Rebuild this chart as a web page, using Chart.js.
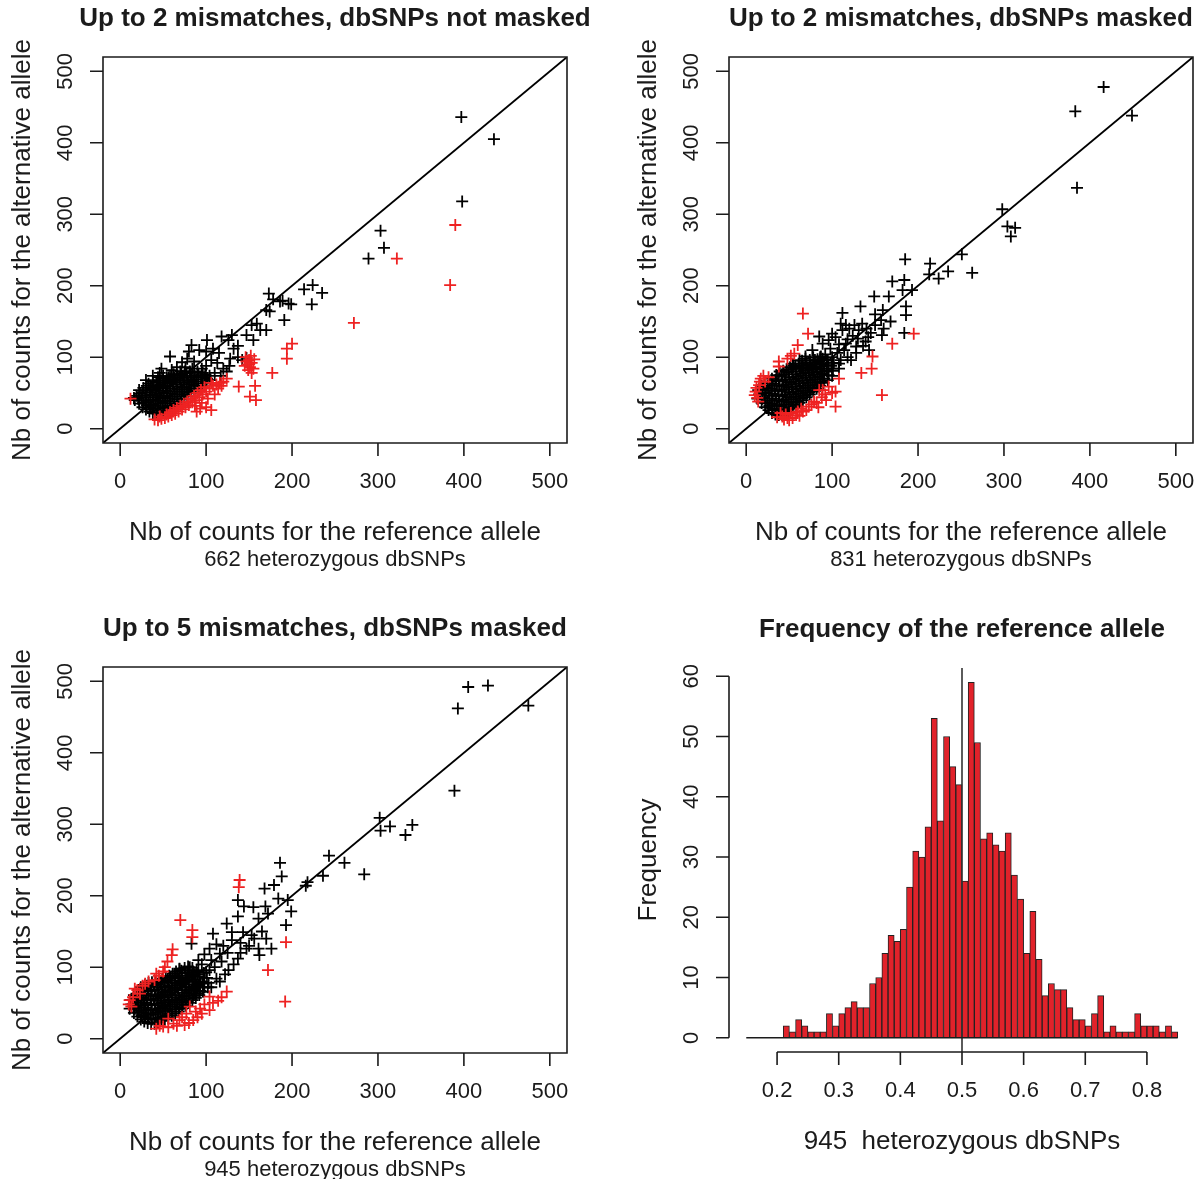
<!DOCTYPE html>
<html lang="en">
<head>
<meta charset="UTF-8">
<title>Allele counts at heterozygous dbSNPs</title>
<script src="https://cdn.jsdelivr.net/npm/chart.js"></script>
<style>
  html, body { margin: 0; background: #fff; overflow: hidden; }
  canvas { position: absolute; }
</style>
</head>
<body>
<canvas id="p1" width="600" height="590" style="left:0;top:0"></canvas>
<canvas id="p2" width="601" height="590" style="left:600px;top:0"></canvas>
<canvas id="p3" width="600" height="589" style="left:0;top:590px"></canvas>
<canvas id="p4" width="601" height="589" style="left:600px;top:590px"></canvas>
<script>
// ---- data ----
const countTicks = [0, 100, 200, 300, 400, 500];
const countLabels = ['0', '100', '200', '300', '400', '500'];
const diagonal = [[-20, -20], [520, 520]];

// panel 1: up to 2 mismatches, dbSNPs not masked
const p1Black = [
  [397,436],[435,405],[398,318],[303,277],[307,253],[289,238],
  [173,189],[178,181],[189,179],[199,174],[214,195],[224,201],[235,190],[223,174],[191,152],[174,164],[186,178],[196,175],[170,166],[159,147],[153,145],[163,138],[170,138],[155,124],[147,131],[130,131],[126,124],[118,129],[101,124],[83,117],[58,101],
  [80,108],[92,110],[100,108],[108,112],[115,106],[132,112],[137,116],[128,98],[137,100],[147,99],[113,92],[100,88],[86,94],[78,98],[72,93],[66,86],[60,82],[48,84],[30,68],[38,74],[46,78],[120,84],[127,88],[142,96],[106,96],[95,84],[110,78],[117,74],[124,80],[104,68],[98,72],[90,80],[84,84],[76,86],[70,80],[62,76],[56,72],[50,74],[44,72],
  [17,40],[19,46],[16,43],
  [22,35],[21,42],[23,49],[22,54],
  [26,30],[27,37],[25,44],[26,51],[27,57],
  [30,27],[31,33],[29,40],[31,47],[30,54],[31,60],
  [34,24],[35,30],[33,37],[35,44],[34,51],[35,57],[33,63],
  [38,22],[39,28],[37,34],[39,41],[38,48],[37,55],[39,61],[38,66],
  [42,21],[43,26],[41,32],[43,39],[42,46],[41,53],[43,59],[42,65],
  [46,22],[47,28],[45,35],[47,42],[46,49],[45,56],[47,62],[46,68],
  [50,23],[51,30],[49,37],[51,44],[50,51],[49,58],[51,64],[50,70],
  [54,25],[55,32],[53,39],[55,46],[54,53],[53,60],[55,66],[54,72],
  [58,28],[59,35],[57,42],[59,49],[58,56],[57,63],[59,69],[58,74],
  [62,31],[63,38],[61,45],[63,52],[62,59],[61,65],[63,71],[62,76],
  [66,34],[67,41],[65,48],[67,55],[66,62],[65,68],[67,74],
  [70,38],[71,45],[69,52],[71,58],[70,65],[69,71],[71,77],
  [74,42],[75,48],[73,55],[75,62],[74,68],[73,74],[75,80],
  [78,46],[79,52],[77,58],[79,65],[78,71],[77,77],
  [82,50],[83,56],[81,62],[83,68],[82,74],[81,80],
  [86,53],[87,60],[85,66],[87,72],[86,78],
  [90,56],[91,63],[89,69],[91,75],
  [95,60],[96,66],[94,72],[96,78],
  [100,64],[101,70],[99,76],
  [105,68],[104,74]
];
const p1Red = [
  [390,285],[322,238],[384,201],[272,148],
  [194,112],[200,119],[194,98],[177,78],[158,40],[151,45],[138,59],[157,60],[12,42],
  [146,100],[150,96],[153,92],[148,90],[151,86],[155,84],[145,88],[149,82],[153,78],[147,94],[156,97],[152,102],
  [40,13],[44,12],[48,14],[52,15],[46,17],[56,17],[60,19],[64,21],[58,23],[68,24],[72,27],[66,29],[76,30],[80,33],[74,35],
  [84,37],[88,40],[82,42],[92,44],[96,48],[90,50],[100,52],[104,56],[98,58],[108,60],[112,62],[116,64],[106,64],[118,60],
  [114,56],[89,24],[87,32],[95,36],[102,42],[106,26],[100,30],[93,28],[110,48],[54,20],[62,26],[70,32],[78,38],[86,46],
  [94,54],[120,66],[124,70]
];

// panel 2: up to 2 mismatches, dbSNPs masked
const p2Black = [
  [416,478],[383,444],[449,438],[385,337],[298,307],[304,283],[313,281],[308,269],[251,244],[263,218],[214,231],[213,216],[224,210],[235,220],[185,237],[170,206],[184,208],[182,194],[193,194],[149,185],[166,185],
  [133,171],[112,162],[159,166],[186,171],[186,159],[157,152],[145,134],[158,131],[184,134],[135,147],[126,145],[116,145],[110,147],[100,133],[131,138],[139,122],[143,110],[122,96],[108,91],[85,129],[89,119],[77,110],[96,124],[116,119],[128,115],[54,91],[69,101],
  [104,128],[112,138],[120,140],[124,130],[118,125],[108,118],[98,112],[92,104],[86,100],[80,96],[74,92],[100,100],[106,106],[114,110],[130,126],[140,140],[150,145],[160,140],[168,150],[150,160],[142,128],[136,116],[128,106],[118,100],[110,96],[102,92],[94,96],[88,90],[82,86],[76,84],[70,90],[64,86],[62,96],[58,84],[100,84],[94,80],[88,76],[108,84],
  [13,42],[15,48],[14,54],
  [18,36],[19,42],[17,48],[19,55],[18,60],
  [22,30],[23,36],[21,43],[23,50],[22,57],[21,63],
  [26,26],[27,32],[25,39],[27,46],[26,53],[25,60],[27,66],
  [30,22],[31,28],[29,35],[31,42],[30,49],[29,56],[31,63],[30,70],
  [34,20],[35,26],[33,33],[35,40],[34,47],[33,54],[35,61],[34,68],[35,75],
  [38,19],[39,25],[37,32],[39,39],[38,46],[37,53],[39,60],[38,67],[37,74],[39,80],
  [42,19],[43,25],[41,32],[43,39],[42,46],[41,53],[43,60],[42,67],[41,74],[43,81],
  [46,21],[47,27],[45,34],[47,41],[46,48],[45,55],[47,62],[46,69],[45,76],[47,83],
  [50,24],[51,30],[49,37],[51,44],[50,51],[49,58],[51,65],[50,72],[49,79],[51,86],
  [54,28],[55,34],[53,41],[55,48],[54,55],[53,62],[55,69],[54,76],[53,83],[55,89],
  [58,32],[59,38],[57,45],[59,52],[58,59],[57,66],[59,73],[58,80],[57,87],
  [62,36],[63,42],[61,49],[63,56],[62,63],[61,70],[63,77],[62,84],[61,91],
  [66,40],[67,46],[65,53],[67,60],[66,67],[65,74],[67,81],[66,88],[65,95],
  [70,44],[71,50],[69,57],[71,64],[70,71],[69,78],[71,85],[70,92],[69,98],
  [74,48],[75,54],[73,61],[75,68],[74,75],[73,82],[75,89],[74,96],
  [78,52],[79,58],[77,65],[79,72],[78,79],[77,86],[79,93],[78,100],
  [82,56],[83,62],[81,69],[83,76],[82,83],[81,90],[83,97],
  [86,60],[87,66],[85,73],[87,80],[86,87],[85,94],[87,101],
  [90,64],[91,70],[89,77],[91,84],[90,91],[89,98],
  [95,68],[96,75],[94,82],[96,89],[95,96],
  [100,74],[101,81],[99,88]
];
const p2Red = [
  [66,161],[72,133],[60,117],[56,105],[38,94],[38,87],[48,98],[52,102],[26,72],[22,66],[17,70],[15,61],[11,52],[13,43],
  [10,47],[12,57],[16,66],[20,74],[14,38],
  [170,119],[195,133],[147,101],[146,84],[134,78],[158,47],
  [104,31],[104,52],[93,40],[96,59],[85,54],[73,31],[66,24],[58,19],[48,15],[42,17],[54,15],[79,38],[89,54],[108,70],
  [40,22],[46,20],[52,22],[60,24],[64,28],[70,26],[76,34],[82,36],[88,44],[84,30],[92,48],[100,50],[62,18],[50,12],
  [44,13],[36,16]
];

// panel 3: up to 5 mismatches, dbSNPs masked
const p3Black = [
  [405,492],[428,494],[393,462],[475,466],[389,347],[302,309],[303,291],[314,297],[332,285],[340,299],[284,230],[261,246],[243,256],[236,228],[218,219],[216,214],[186,246],[188,227],[179,215],[168,210],
  [184,196],[195,194],[199,178],[193,159],[137,194],[144,185],[155,184],[169,185],[137,171],[161,168],[172,175],[124,161],[108,147],[130,149],[143,149],[153,145],[147,126],[161,126],[176,126],[162,117],[137,112],[126,96],[112,84],[97,77],[83,133],[91,110],[106,110],[116,119],[69,98],[81,100],[100,93],[87,63],[77,82],
  [120,130],[130,138],[140,134],[150,130],[156,140],[165,150],[170,140],[125,120],[118,108],[110,100],[104,96],[95,104],[90,90],[84,88],[78,92],[98,118],[104,126],[112,132],[140,120],[132,104],[122,90],[116,80],[106,72],[96,66],[90,72],[86,80],[76,72],[70,80],[64,86],[60,78],
  [11,42],[13,48],[12,54],
  [16,36],[17,42],[15,48],[17,55],[16,61],
  [20,31],[21,37],[19,44],[21,50],[20,57],[19,63],[21,68],
  [24,27],[25,33],[23,40],[25,46],[24,53],[23,60],[25,66],[24,72],
  [28,24],[29,30],[27,37],[29,43],[28,50],[27,57],[29,63],[28,70],[29,75],
  [32,22],[33,28],[31,35],[33,41],[32,48],[31,55],[33,61],[32,68],[31,74],[33,78],
  [36,21],[37,27],[35,34],[37,40],[36,47],[35,54],[37,60],[36,67],[35,73],[37,79],
  [40,21],[41,27],[39,34],[41,40],[40,47],[39,54],[41,60],[40,67],[39,74],[41,80],
  [44,23],[45,29],[43,36],[45,42],[44,49],[43,56],[45,62],[44,69],[43,76],[45,82],
  [48,25],[49,31],[47,38],[49,44],[48,51],[47,58],[49,64],[48,71],[47,78],[49,84],
  [52,27],[53,33],[51,40],[53,46],[52,53],[51,60],[53,66],[52,73],[51,80],[53,86],
  [56,29],[57,35],[55,42],[57,48],[56,55],[55,62],[57,68],[56,75],[55,82],[57,88],
  [60,32],[61,38],[59,45],[61,51],[60,58],[59,65],[61,71],[60,78],[59,85],[61,91],
  [64,35],[65,41],[63,48],[65,54],[64,61],[63,68],[65,74],[64,81],[63,88],[65,94],
  [68,38],[69,44],[67,51],[69,57],[68,64],[67,71],[69,77],[68,84],[67,91],[69,97],
  [72,42],[73,48],[71,55],[73,61],[72,68],[71,75],[73,81],[72,88],[71,95],
  [76,46],[77,52],[75,59],[77,65],[76,72],[75,79],[77,85],[76,92],[75,99],
  [80,50],[81,56],[79,63],[81,69],[80,76],[79,83],[81,89],[80,96],[79,101],
  [84,54],[85,60],[83,67],[85,73],[84,80],[83,87],[85,93],[84,99],
  [88,57],[89,63],[87,70],[89,76],[88,83],[87,90],[89,96],
  [92,61],[93,67],[91,74],[93,80],[92,87],[91,94],
  [97,66],[98,72],[96,79],[98,85],[97,92],
  [102,72],[103,78],[101,85]
];
const p3Red = [
  [139,222],[138,212],[70,166],[84,152],[84,142],[61,125],[60,117],[52,100],[55,108],[45,88],[50,94],[40,82],[42,91],
  [29,77],[17,70],[11,54],[13,45],[23,63],[15,58],[20,68],[26,74],[33,80],[10,48],
  [193,135],[172,96],[192,52],
  [124,66],[114,53],[104,59],[104,40],[95,35],[93,42],[77,35],[69,26],[62,21],[50,17],[42,14],[75,19],[85,26],[81,45],
  [56,28],[46,18],[56,16],[66,18],[72,30],[88,38],[98,48],[108,50],[118,58],[90,30],[80,22]
];

// panel 4: histogram of the reference allele frequency (bins of 0.01)
const binMids = [0.215,0.225,0.235,0.245,0.255,0.265,0.275,0.285,0.295,0.305,0.315,0.325,0.335,0.345,0.355,0.365,
  0.375,0.385,0.395,0.405,0.415,0.425,0.435,0.445,0.455,0.465,0.475,0.485,0.495,0.505,0.515,0.525,
  0.535,0.545,0.555,0.565,0.575,0.585,0.595,0.605,0.615,0.625,0.635,0.645,0.655,0.665,0.675,0.685,
  0.695,0.705,0.715,0.725,0.735,0.745,0.755,0.765,0.775,0.785,0.795,0.805,0.815,0.825,0.835,0.845];
const binCounts = [2,1,3,2,1,1,1,4,2,4,5,6,5,5,9,10,14,17,16,18,25,31,30,35,53,36,50,45,42,
  26,59,49,33,34,32,31,34,27,23,14,21,13,7,9,8,8,5,3,3,2,4,7,1,2,1,1,1,4,2,2,2,1,2,1];
const freqTicks = [0.2, 0.3, 0.4, 0.5, 0.6, 0.7, 0.8];
const freqLabels = ['0.2', '0.3', '0.4', '0.5', '0.6', '0.7', '0.8'];
const histTicks = [0, 10, 20, 30, 40, 50, 60];
const histLabels = ['0', '10', '20', '30', '40', '50', '60'];

// ---- drawing ----
const FONT = '"Liberation Sans", Arial, Helvetica, sans-serif';
const INK = '#1b1b1b';
const toXY = arr => arr.map(([x, y]) => ({ x, y }));

function rotText(ctx, text, x, y) {
  ctx.save();
  ctx.translate(x, y);
  ctx.rotate(-Math.PI / 2);
  ctx.fillText(text, 0, 0);
  ctx.restore();
}

// R-style frame, ticks and labels, placed with the chart's scales
function rAxes(spec) {
  return {
    id: 'rAxes',
    afterDraw(chart) {
      const { ctx, chartArea: a } = chart;
      const xs = chart.scales.x, ys = chart.scales.y;
      const cx = (a.left + a.right) / 2, cy = (a.top + a.bottom) / 2;
      const xt = spec.xTicks.map(v => xs.getPixelForValue(v));
      const yt = spec.yTicks.map(v => ys.getPixelForValue(v));
      ctx.save();
      ctx.strokeStyle = INK;
      ctx.fillStyle = INK;
      ctx.lineWidth = 1.6;
      ctx.beginPath();
      if (spec.box) ctx.rect(a.left, a.top, a.right - a.left, a.bottom - a.top);
      ctx.moveTo(xt[0], a.bottom); ctx.lineTo(xt[xt.length - 1], a.bottom);
      xt.forEach(p => { ctx.moveTo(p, a.bottom); ctx.lineTo(p, a.bottom + 13); });
      ctx.moveTo(a.left, yt[0]); ctx.lineTo(a.left, yt[yt.length - 1]);
      yt.forEach(p => { ctx.moveTo(a.left, p); ctx.lineTo(a.left - 13, p); });
      ctx.stroke();

      ctx.textAlign = 'center';
      ctx.textBaseline = 'middle';
      ctx.font = '22px ' + FONT;
      xt.forEach((p, i) => ctx.fillText(spec.xLabels[i], p, a.bottom + 39));
      yt.forEach((p, i) => rotText(ctx, spec.yLabels[i], a.left - 37, p));
      ctx.font = 'bold 26px ' + FONT;
      ctx.fillText(spec.title, cx, a.top - 38);
      ctx.font = '26px ' + FONT;
      ctx.fillText(spec.xTitle, cx, a.bottom + 90);
      rotText(ctx, spec.yTitle, a.left - 80, cy);
      if (spec.sub) {
        ctx.font = '22px ' + FONT;
        ctx.fillText(spec.sub, cx, a.bottom + 117);
      }
      ctx.restore();
    }
  };
}

function crosses(points, color, order) {
  return {
    data: toXY(points), pointStyle: 'cross', pointRadius: 6,
    pointBorderColor: color, pointBorderWidth: 1.8, borderColor: color, order
  };
}

function scatterPanel(id, black, red, padding, title, sub) {
  new Chart(document.getElementById(id), {
    type: 'scatter',
    data: {
      datasets: [
        crosses(black, '#000', 3),
        crosses(red, '#ee2222', 2),
        { type: 'line', data: toXY(diagonal), borderColor: '#000', borderWidth: 1.8, pointRadius: 0, order: 1 }
      ]
    },
    options: {
      responsive: false, animation: false, events: [],
      layout: { padding },
      plugins: { legend: { display: false }, tooltip: { enabled: false } },
      scales: {
        x: { type: 'linear', min: -20, max: 520, display: false },
        y: { type: 'linear', min: -20, max: 520, display: false }
      }
    },
    plugins: [rAxes({
      box: true, title, sub,
      xTicks: countTicks, xLabels: countLabels, yTicks: countTicks, yLabels: countLabels,
      xTitle: 'Nb of counts for the reference allele',
      yTitle: 'Nb of counts for the alternative allele'
    })]
  });
}

scatterPanel('p1', p1Black, p1Red, { left: 103, right: 33, top: 57, bottom: 147 },
  'Up to 2 mismatches, dbSNPs not masked', '662 heterozygous dbSNPs');
scatterPanel('p2', p2Black, p2Red, { left: 129, right: 8, top: 57, bottom: 147 },
  'Up to 2 mismatches, dbSNPs masked', '831 heterozygous dbSNPs');
scatterPanel('p3', p3Black, p3Red, { left: 103, right: 33, top: 77, bottom: 126 },
  'Up to 5 mismatches, dbSNPs masked', '945 heterozygous dbSNPs');

new Chart(document.getElementById('p4'), {
  type: 'bar',
  data: {
    datasets: [
      {
        type: 'bar', data: binMids.map((m, i) => ({ x: m, y: binCounts[i] })),
        backgroundColor: '#e1222a', borderColor: '#222', borderWidth: 1, borderSkipped: false,
        barPercentage: 1, categoryPercentage: 1, order: 2
      },
      { type: 'line', data: toXY([[0.15, 0], [0.85, 0]]), borderColor: INK, borderWidth: 1.6, pointRadius: 0, order: 1 },
      { type: 'line', data: toXY([[0.5, -2.36], [0.5, 61.36]]), borderColor: '#333', borderWidth: 1.6, pointRadius: 0, order: 1 }
    ]
  },
  options: {
    responsive: false, animation: false, events: [],
    layout: { padding: { left: 129, right: 6, top: 78, bottom: 127 } },
    plugins: { legend: { display: false }, tooltip: { enabled: false } },
    scales: {
      x: { type: 'linear', min: 0.122, max: 0.878, offset: false, display: false },
      y: { type: 'linear', min: -2.36, max: 61.36, display: false }
    }
  },
  plugins: [rAxes({
    box: false, title: 'Frequency of the reference allele',
    xTicks: freqTicks, xLabels: freqLabels, yTicks: histTicks, yLabels: histLabels,
    xTitle: '945  heterozygous dbSNPs', yTitle: 'Frequency'
  })]
});
</script>
</body>
</html>
